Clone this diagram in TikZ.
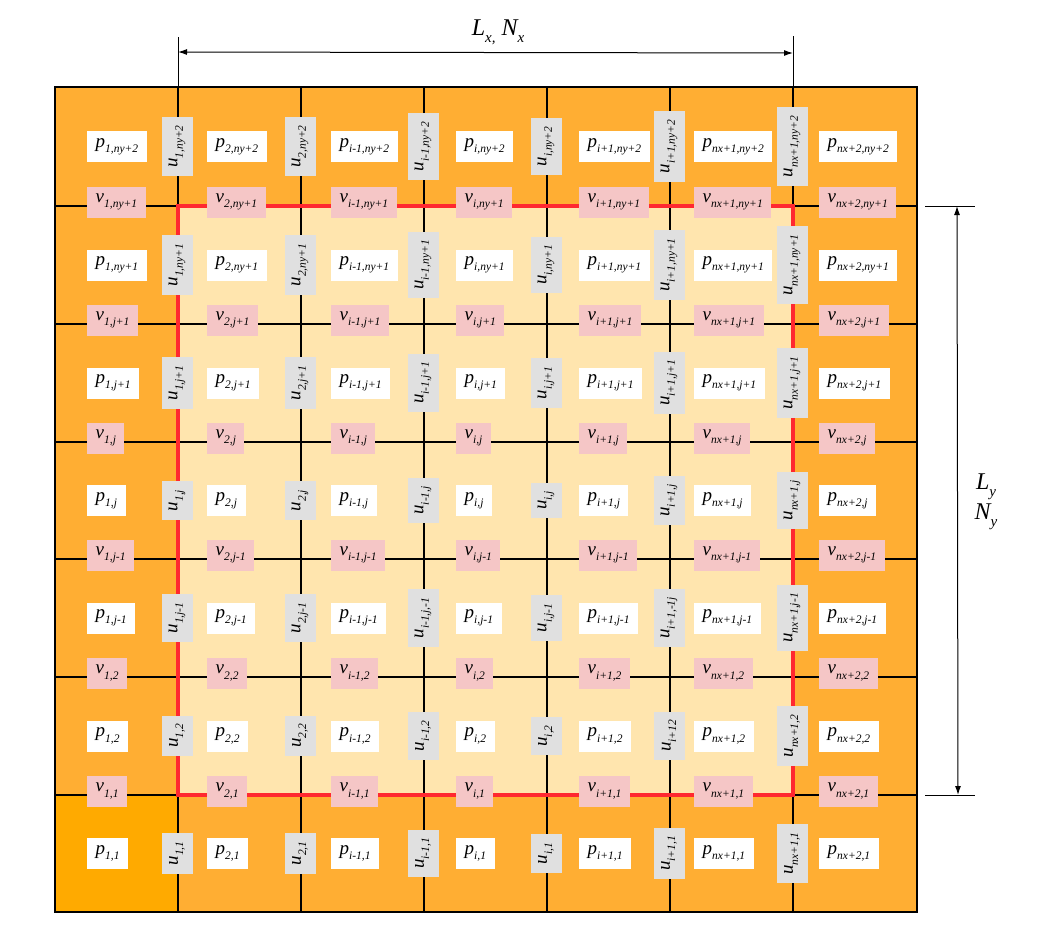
\documentclass[tikz,border=0pt]{standalone}
\usepackage{fontspec}
\setmainfont{Liberation Serif}
\usetikzlibrary{arrows.meta}
\definecolor{outerorange}{RGB}{255,174,51}
\definecolor{cornerorange}{RGB}{255,170,0}
\definecolor{innerlight}{RGB}{255,229,174}
\definecolor{vpink}{RGB}{245,198,198}
\definecolor{ugray}{RGB}{224,224,224}
\definecolor{redline}{RGB}{255,40,48}
\newcommand\lbl[2]{\textit{#1\raisebox{-0.28em}{\fontsize{11.5}{12}\selectfont #2}}}
\expandafter\def\csname ux-3-3\endcsname{i-1,j,-1}
\expandafter\def\csname ux-5-3\endcsname{i+1,-1j}
\expandafter\def\csname ux-5-2\endcsname{i+12}
\def\ulab{\ifcsname ux-\c-\r\endcsname\csname ux-\c-\r\endcsname\else\cn,\rn\fi}
\begin{document}
\begin{tikzpicture}[x=1pt,y=-1pt,
  cellbox/.style={inner xsep=8.5pt, inner ysep=0pt, minimum height=31pt, anchor=west,
    font=\fontsize{19}{20}\selectfont\itshape},
  pbox/.style={cellbox, fill=white},
  vbox/.style={cellbox, fill=vpink},
  ubox/.style={cellbox, anchor=center, fill=ugray, rotate=90},
  gridline/.style={line width=1.4pt},
  dimarrow/.style={line width=1pt, {Latex[length=9pt,width=6pt]}-{Latex[length=9pt,width=6pt]}},
  tickline/.style={line width=0.8pt},
  dimlabel/.style={font=\fontsize{24}{28}\selectfont\itshape, align=center, inner sep=0pt}]
\useasboundingbox (0,0) rectangle (1043,948);
% fills
\fill[outerorange] (55,87) rectangle (917,912);
\fill[innerlight] (178,206) rectangle (793,795);
\fill[cornerorange] (55,795) rectangle (178,912);
% grid
\foreach \x in {178,301,424,547,670,793} \draw[gridline] (\x,87) -- (\x,912);
\foreach \y in {206,324,442,559,677,795} \draw[gridline] (55,\y) -- (917,\y);
\draw[line width=2pt] (55,87) rectangle (917,912);
\draw[redline, line width=4pt] (178,206) rectangle (793,795);
% dimension lines
\coordinate (tlt) at (178,37);
\coordinate (tlb) at (178,87);
\coordinate (trt) at (793,36);
\coordinate (trb) at (793,87);
\draw[tickline] (tlt) -- (tlb);
\draw[tickline] (trt) -- (trb);
\coordinate (al) at (178,52);
\coordinate (ar) at (793,53);
\draw[dimarrow] (al) -- (ar);
\node[dimlabel] (lx) at (498,32) {L\raisebox{-0.3em}{\fontsize{15}{16}\selectfont x,} N\raisebox{-0.3em}{\fontsize{15}{16}\selectfont x}};
\coordinate (rtl) at (925,206);
\coordinate (rtr) at (975,206);
\coordinate (rbl) at (925,795);
\coordinate (rbr) at (975,795);
\draw[tickline] (rtl) -- (rtr);
\draw[tickline] (rbl) -- (rbr);
\coordinate (at) at (957,206);
\coordinate (ab) at (958,795);
\draw[dimarrow] (at) -- (ab);
\node[dimlabel] (ly) at (986,502) {L\raisebox{-0.3em}{\fontsize{15}{16}\selectfont y}\\[2pt] N\raisebox{-0.3em}{\fontsize{15}{16}\selectfont y}};
% cell boxes
\foreach \c/\cn/\xl/\xo/\xr in {1/1/55/32/178, 2/2/178/29/301, 3/i-1/301/30/424, 4/i/424/32/547, 5/i+1/547/32/670, 6/nx+1/670/24/793, 7/nx+2/793/26/917}{
  \foreach \r/\rn/\yt/\yb in {1/1/795/912, 2/2/677/795, 3/j-1/559/677, 4/j/442/559, 5/j+1/324/442, 6/ny+1/206/324, 7/ny+2/87/206}{
    \node[pbox] (p-\c-\r) at ({\xl+\xo},{(\yt+\yb)/2}) {\lbl{p}{\cn,\rn}};
    \ifnum\r<7 \node[vbox] (v-\c-\r) at ({\xl+\xo},{\yt-4}) {\lbl{v}{\cn,\rn}};\fi
    \ifnum\c<7 \node[ubox] (u-\c-\r) at ({\xr-1},{(\yt+\yb)/2}) {\lbl{u}{\ulab}};\fi
  }
}
\end{tikzpicture}
\end{document}
